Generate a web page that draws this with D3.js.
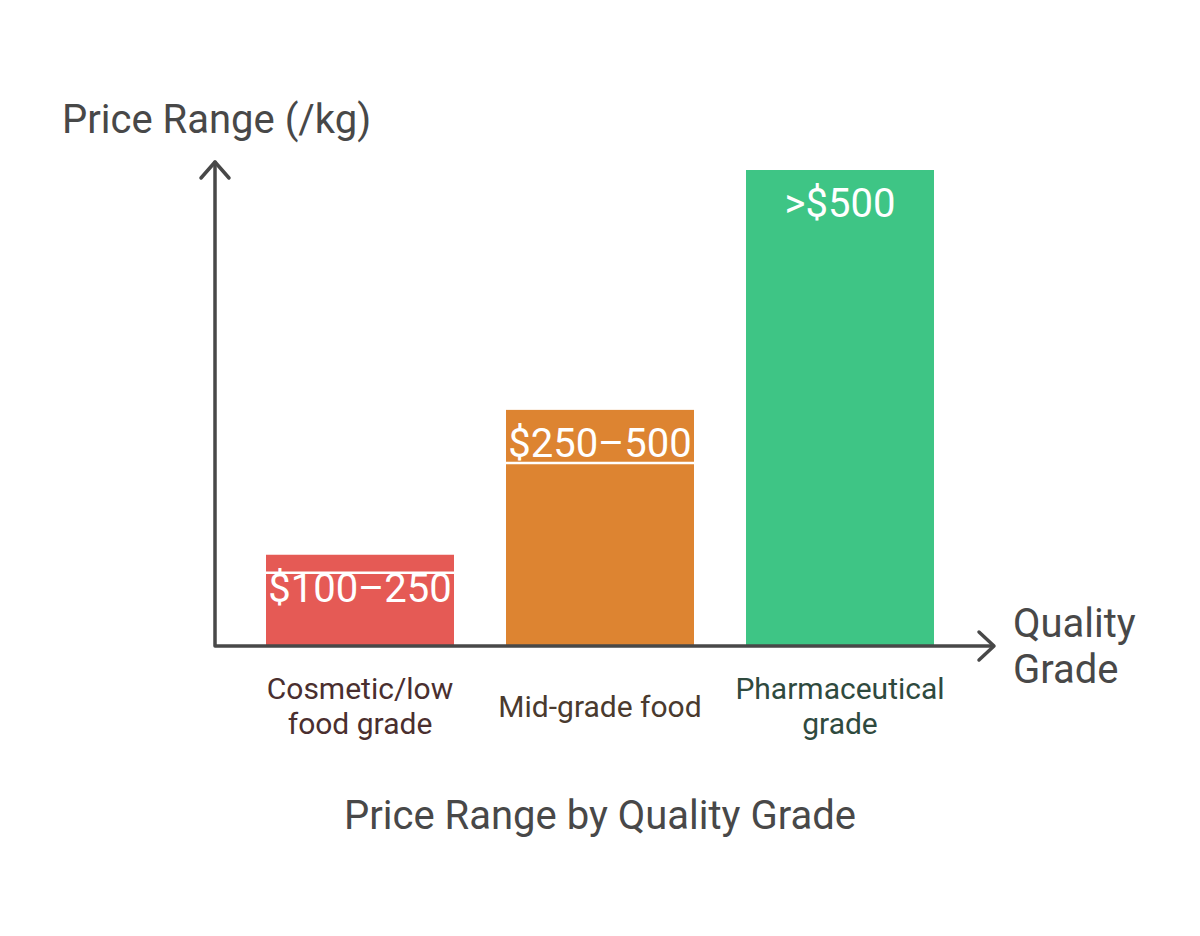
<!DOCTYPE html>
<html>
<head>
<meta charset="utf-8">
<script src="https://cdn.jsdelivr.net/npm/d3@7"></script>
<style>
  body { margin: 0; background: #fff; }
  svg text { font-family: Roboto, "Noto Sans", sans-serif; }
</style>
</head>
<body>
<svg id="chart" width="1200" height="936"></svg>
<script>
// data (no y ticks, so heights are relative)
var grades = ["Cosmetic/low food grade", "Mid-grade food", "Pharmaceutical grade"];
var gradeLines = [["Cosmetic/low", "food grade"], ["Mid-grade food"], ["Pharmaceutical", "grade"]];
var priceLabels = ["$100\u2013250", "$250\u2013500", ">$500"];
var barHeights = [19, 49.5, 100];
var barColors = ["#E55A55", "#DD8431", "#3EC585"];
var labelColors = ["#4a2f2f", "#4a3a2e", "#2f4a3e"];

var svg = d3.select("svg#chart");
var axisColor = "#484848";

var margin = { top: 170, left: 215, bottom: 646, right: 995 };

/*Scales*/
var xScale = d3.scaleBand()
  .domain(grades)
  .range([266, 934])
  .paddingInner(52 / 240)
  .paddingOuter(0);

var yScale = d3.scaleLinear()
  .domain([0, 100])
  .range([645, margin.top]);

var plot = svg.append("g").attr("id", "plot");

// bars
var bars = plot.selectAll("g.bar")
  .data(grades)
  .enter().append("g")
  .attr("class", "bar");

bars.append("rect")
  .attr("x", function(d) { return xScale(d); })
  .attr("y", function(d, i) { return yScale(barHeights[i]); })
  .attr("width", xScale.bandwidth())
  .attr("height", function(d, i) { return yScale(0) - yScale(barHeights[i]); })
  .attr("fill", function(d, i) { return barColors[i]; });

// the thin white rule that sits on the first two labels
var ruleOffset = [18, 53, null];
bars.filter(function(d, i) { return ruleOffset[i] != null; })
  .append("line")
  .attr("x1", function(d) { return xScale(d); })
  .attr("x2", function(d) { return xScale(d) + xScale.bandwidth(); })
  .attr("y1", function(d) { var i = grades.indexOf(d); return yScale(barHeights[i]) + ruleOffset[i]; })
  .attr("y2", function(d) { var i = grades.indexOf(d); return yScale(barHeights[i]) + ruleOffset[i]; })
  .attr("stroke", "#fff")
  .attr("stroke-width", 2.5);

bars.append("text")
  .attr("x", function(d) { return xScale(d) + xScale.bandwidth() / 2; })
  .attr("y", function(d, i) { return yScale(barHeights[i]) + 47; })
  .attr("text-anchor", "middle")
  .attr("fill", "#fff")
  .attr("font-size", 40)
  .text(function(d, i) { return priceLabels[i]; });

// category labels
bars.each(function(d, i) {
  var lines = gradeLines[i];
  var cx = xScale(d) + xScale.bandwidth() / 2;
  var startY = lines.length == 1 ? 717 : 699;
  var t = d3.select(this).append("text")
    .attr("text-anchor", "middle")
    .attr("font-size", 30)
    .attr("fill", labelColors[i]);
  lines.forEach(function(line, j) {
    t.append("tspan")
      .attr("x", cx)
      .attr("y", startY + j * 35)
      .text(line);
  });
});

// axes with open arrow heads
var axes = svg.append("g").attr("id", "axes")
  .attr("stroke", axisColor)
  .attr("stroke-width", 3.5)
  .attr("fill", "none")
  .attr("stroke-linecap", "round")
  .attr("stroke-linejoin", "round");

axes.append("path")
  .attr("d", "M" + margin.left + "," + (margin.top - 8) + " V" + margin.bottom + " H" + (margin.right - 2));
axes.append("path")
  .attr("d", "M" + (margin.left - 14) + "," + (margin.top + 8) + " L" + margin.left + "," + (margin.top - 8) + " L" + (margin.left + 14) + "," + (margin.top + 8));
axes.append("path")
  .attr("d", "M" + (margin.right - 16) + "," + (margin.bottom - 14) + " L" + (margin.right - 1) + "," + margin.bottom + " L" + (margin.right - 16) + "," + (margin.bottom + 14));

// titles
svg.append("text")
  .attr("x", 62)
  .attr("y", 133)
  .attr("font-size", 40)
  .attr("fill", axisColor)
  .text("Price Range (/kg)");

var xTitle = svg.append("text")
  .attr("font-size", 40)
  .attr("fill", axisColor);
xTitle.append("tspan").attr("x", 1013).attr("y", 637).text("Quality");
xTitle.append("tspan").attr("x", 1013).attr("y", 683).text("Grade");

svg.append("text")
  .attr("x", 600)
  .attr("y", 829)
  .attr("text-anchor", "middle")
  .attr("font-size", 40)
  .attr("fill", axisColor)
  .text("Price Range by Quality Grade");
</script>
</body>
</html>
